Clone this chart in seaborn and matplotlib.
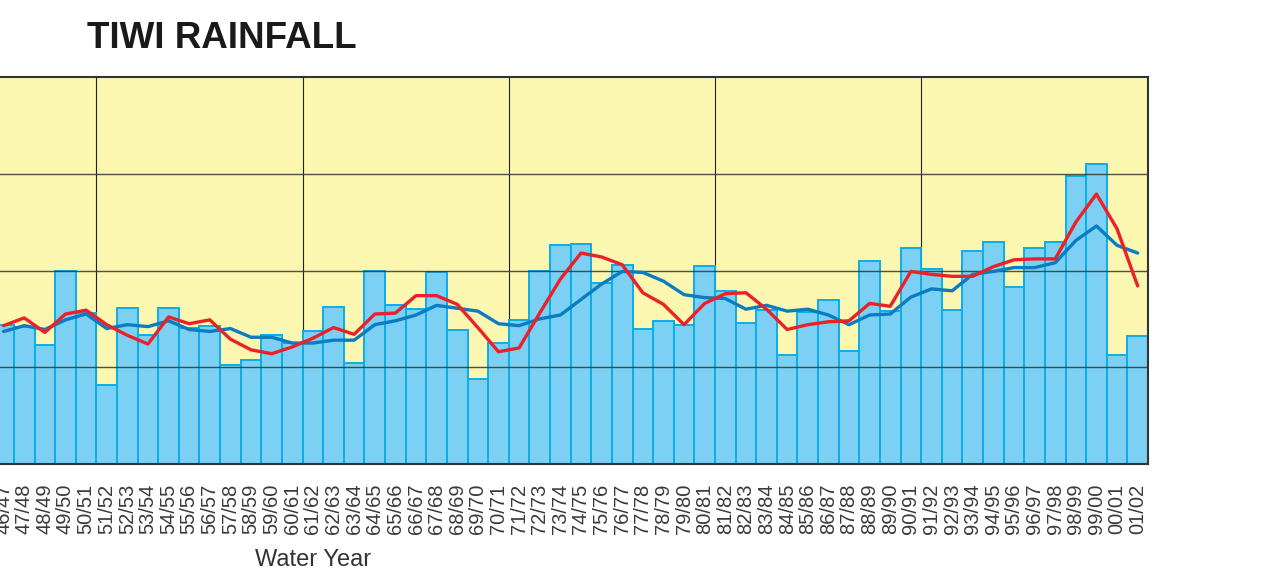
import matplotlib
matplotlib.use("Agg")
import matplotlib.pyplot as plt
import numpy as np
import pandas as pd
import seaborn as sns

# Water years shown (left part of the chart is cut off in the source)
years = ["46/47", "47/48", "48/49", "49/50", "50/51", "51/52", "52/53", "53/54",
         "54/55", "55/56", "56/57", "57/58", "58/59", "59/60", "60/61", "61/62",
         "62/63", "63/64", "64/65", "65/66", "66/67", "67/68", "68/69", "69/70",
         "70/71", "71/72", "72/73", "73/74", "74/75", "75/76", "76/77", "77/78",
         "78/79", "79/80", "80/81", "81/82", "82/83", "83/84", "84/85", "85/86",
         "86/87", "87/88", "88/89", "89/90", "90/91", "91/92", "92/93", "93/94",
         "94/95", "95/96", "96/97", "97/98", "98/99", "99/00", "00/01", "01/02"]

# annual rainfall (mm)
rainfall = [1440, 1420, 1230, 1990, 1560, 820, 1610, 1330,
            1610, 1410, 1430, 1020, 1070, 1330, 1250, 1370,
            1620, 1040, 1990, 1640, 1600, 1980, 1390, 875,
            1250, 1490, 2000, 2260, 2270, 1870, 2060, 1400,
            1480, 1440, 2050, 1790, 1460, 1590, 1130, 1570,
            1700, 1170, 2100, 1580, 2230, 2020, 1590, 2200,
            2290, 1830, 2230, 2290, 2980, 3100, 1130, 1320]

# short running mean (red)
avg_red = [1430, 1510, 1360, 1550, 1590, 1440, 1330, 1240,
           1520, 1450, 1490, 1290, 1180, 1140, 1210, 1300,
           1410, 1340, 1550, 1560, 1740, 1740, 1650, 1410,
           1160, 1200, 1560, 1910, 2180, 2140, 2060, 1770,
           1650, 1440, 1660, 1760, 1770, 1600, 1390, 1440,
           1470, 1480, 1660, 1630, 1990, 1960, 1940, 1940,
           2040, 2110, 2120, 2120, 2500, 2790, 2430, 1840]

# long running mean (blue)
avg_blue = [1370, 1430, 1390, 1490, 1550, 1400, 1440, 1420,
            1480, 1390, 1370, 1400, 1310, 1310, 1250, 1250,
            1280, 1280, 1440, 1480, 1540, 1640, 1610, 1580,
            1450, 1430, 1500, 1540, 1700, 1860, 1990, 1980,
            1890, 1750, 1720, 1710, 1600, 1640, 1580, 1600,
            1540, 1440, 1540, 1550, 1725, 1810, 1790, 1960,
            1990, 2030, 2030, 2080, 2310, 2460, 2260, 2180]

df = pd.DataFrame({"year": years, "rain": rainfall,
                   "red": avg_red, "blue": avg_blue})
df["pos"] = np.arange(len(df))

sns.set_style("white")
plt.rcParams["font.family"] = ["Liberation Sans", "DejaVu Sans"]

W, H = 1271, 585
fig = plt.figure(figsize=(W / 100, H / 100), dpi=100)
# axes left edge sits off the picture, as in the cropped source
left_px, right_px, top_px, bottom_px = -6.7, 1148, 77, 464
ax = fig.add_axes([left_px / W, (H - bottom_px) / H,
                   (right_px - left_px) / W, (bottom_px - top_px) / H])
ax.set_facecolor("#fbf6b0")

sns.barplot(data=df, x="year", y="rain", width=1.0, color="#7bd0f4",
            saturation=1, edgecolor="#0aaee8", linewidth=1.4, ax=ax, zorder=1)
sns.lineplot(data=df, x="pos", y="red", color="#ec2127", linewidth=2.4,
             ax=ax, zorder=4)
sns.lineplot(data=df, x="pos", y="blue", color="#0a7cc1", linewidth=2.4,
             ax=ax, zorder=3)

ax.set_xlim(-0.5, len(df) - 0.5)
ax.set_ylim(0, 4000)

# vertical grid behind bars every 10 years, horizontal grid over bars
for xv in np.arange(4.5, len(df) - 2, 10):
    ax.axvline(xv, color="#222222", linewidth=0.8, zorder=0.5)
for yv in [1000, 2000, 3000]:
    ax.axhline(yv, color="#333333", linewidth=1.0, alpha=0.85, zorder=2.5)

for s in ax.spines.values():
    s.set_color("#333333")
    s.set_linewidth(1.5)

ax.set_xlabel("")
ax.set_ylabel("")
ax.set_yticks([1000, 2000, 3000, 4000])
ax.set_yticklabels([])
ax.tick_params(axis="x", length=0, pad=14, labelsize=14.5, labelcolor="#3a3a3a",
               labelrotation=90)
ax.tick_params(axis="y", length=0)

fig.text(87 / W, (H - 48) / H, "TIWI RAINFALL", fontsize=26.5,
         fontweight="bold", color="#1a1a1a", va="baseline", ha="left")
fig.text(313 / W, (H - 566) / H, "Water Year", fontsize=17,
         color="#333333", va="baseline", ha="center")

fig.savefig("out.png", dpi=100)
